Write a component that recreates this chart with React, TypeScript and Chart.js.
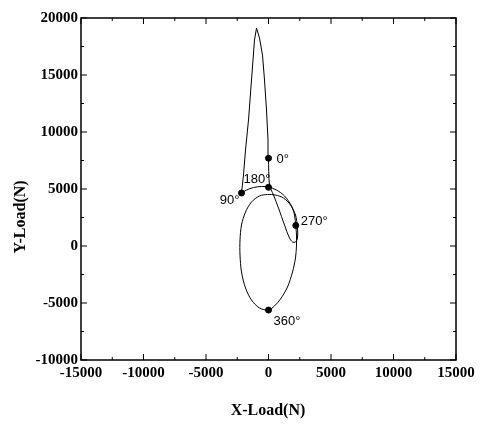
import React, { useEffect, useRef } from "react";
import { Chart, registerables } from "chart.js";

Chart.register(...registerables);

// Spike: 0° -> peak -> 90°
const spikeX = [0, -40, -160, -320, -480, -720, -960, -1120, -1360, -1600, -1840, -2000, -2160];
const spikeY = [7700, 9300, 11930, 14560, 16750, 18240, 19120, 18070, 14560, 11050, 8420, 6230, 4650];

// Rest of cycle: 90° -> 180° -> 270° -> 360° -> ellipse -> loop -> back to 0°
const loopX = [-2160, -1760, -1200, -560, 0, 640, 1280, 1840, 2080, 2180, 2240, 2240, 2160, 1920, 1520, 960, 480, 0,
  -720, -1360, -1840, -2160, -2280, -2280, -2160, -1840, -1360, -720, -80, 560, 1200, 1760, 2160, 2320, 2320, 2160, 1920,
  1680, 1280, 800, 400, 80, 0];
const loopY = [4650, 4910, 5130, 5220, 5170, 4910, 4390, 3510, 2720, 1800, 960, 90, -1050, -2280, -3600, -4650, -5260, -5620,
  -5440, -4740, -3680, -2280, -790, 530, 1840, 2980, 3860, 4390, 4520, 4470, 4210, 3600, 2720, 1580, 700, 350, 350,
  700, 1840, 3330, 4470, 5350, 7700];

// Marked crank angles
const markLabels = ["0°", "90°", "180°", "270°", "360°"];
const markX = [0, -2160, 0, 2180, 0];
const markY = [7700, 4650, 5150, 1800, -5620];

const xTicks = [-15000, -10000, -5000, 0, 5000, 10000, 15000];
const yTicks = [-10000, -5000, 0, 5000, 10000, 15000, 20000];

const toPts = (xs: number[], ys: number[]) => xs.map((x, i) => ({ x, y: ys[i] }));

export default function App() {
  const ref = useRef<HTMLCanvasElement | null>(null);
  useEffect(() => {
    document.body.style.margin = "0";
    const canvas = ref.current!;
    const framePlugin = {
      id: "frame",
      afterDatasetsDraw(chart: any) {
        const { ctx, chartArea: a, scales } = chart;
        const xs = scales.x, ys = scales.y;
        ctx.save();
        ctx.strokeStyle = "#000";
        ctx.lineWidth = 1.5;
        ctx.strokeRect(a.left, a.top, a.right - a.left, a.bottom - a.top);
        ctx.lineWidth = 1;
        for (let v = -15000; v <= 15000; v += 2500) {
          const px = xs.getPixelForValue(v);
          const len = v % 5000 === 0 ? 6 : 3;
          ctx.beginPath();
          ctx.moveTo(px, a.bottom); ctx.lineTo(px, a.bottom - len);
          ctx.moveTo(px, a.top); ctx.lineTo(px, a.top + len);
          ctx.stroke();
        }
        for (let v = -10000; v <= 20000; v += 2500) {
          const py = ys.getPixelForValue(v);
          const len = v % 5000 === 0 ? 6 : 3;
          ctx.beginPath();
          ctx.moveTo(a.left, py); ctx.lineTo(a.left + len, py);
          ctx.moveTo(a.right, py); ctx.lineTo(a.right - len, py);
          ctx.stroke();
        }
        // angle labels
        ctx.fillStyle = "#000";
        ctx.font = '13px "Liberation Sans"';
        ctx.textBaseline = "middle";
        const offs = [
          [8, 1, "left"],
          [-2, 7, "right"],
          [2, -8, "right"],
          [5, -4, "left"],
          [5, 11, "left"],
        ];
        markLabels.forEach((t, i) => {
          const px = xs.getPixelForValue(markX[i]);
          const py = ys.getPixelForValue(markY[i]);
          const o = offs[i];
          ctx.textAlign = o[2] as CanvasTextAlign;
          ctx.fillText(t, px + (o[0] as number), py + (o[1] as number));
        });
        // axis titles
        ctx.font = 'bold 16px "Liberation Serif"';
        ctx.textAlign = "center";
        ctx.fillText("X-Load(N)", 268, 411);
        ctx.translate(21, 217);
        ctx.rotate(-Math.PI / 2);
        ctx.fillText("Y-Load(N)", 0, 0);
        ctx.restore();
      },
    };
    const tickFont = { family: '"Liberation Serif"', weight: "bold" as const, size: 15 };
    const chart = new Chart(canvas, {
      type: "scatter",
      data: {
        datasets: [
          {
            data: toPts(spikeX, spikeY),
            showLine: true,
            borderColor: "#000",
            borderWidth: 1,
            pointRadius: 0,
            tension: 0,
          },
          {
            data: toPts(loopX, loopY),
            showLine: true,
            borderColor: "#000",
            borderWidth: 1,
            pointRadius: 0,
            tension: 0.3,
          },
          {
            data: toPts(markX, markY),
            showLine: false,
            pointRadius: 3,
            backgroundColor: "#000",
            borderColor: "#000",
          },
        ],
      },
      options: {
        responsive: false,
        animation: false,
        layout: { padding: { left: 0, top: 18, right: 28, bottom: 0 } },
        plugins: { legend: { display: false }, tooltip: { enabled: false } },
        scales: {
          x: {
            type: "linear",
            min: -15000,
            max: 15000,
            afterBuildTicks: (s: any) => { s.ticks = xTicks.map((v) => ({ value: v })); },
            afterFit: (s: any) => { s.height = 65; },
            grid: { display: false, drawTicks: false },
            border: { display: false },
            ticks: { color: "#000", font: tickFont, padding: 4, maxRotation: 0, callback: (v: any) => String(v) },
          },
          y: {
            type: "linear",
            min: -10000,
            max: 20000,
            afterBuildTicks: (s: any) => { s.ticks = yTicks.map((v) => ({ value: v })); },
            afterFit: (s: any) => { s.width = 81; },
            grid: { display: false, drawTicks: false },
            border: { display: false },
            ticks: { color: "#000", font: tickFont, padding: 3, callback: (v: any) => String(v) },
          },
        },
      },
      plugins: [framePlugin],
    });
    return () => chart.destroy();
  }, []);
  return (
    <div style={{ width: 484, height: 425 }}>
      <canvas ref={ref} width={484} height={425} style={{ display: "block" }} />
    </div>
  );
}
